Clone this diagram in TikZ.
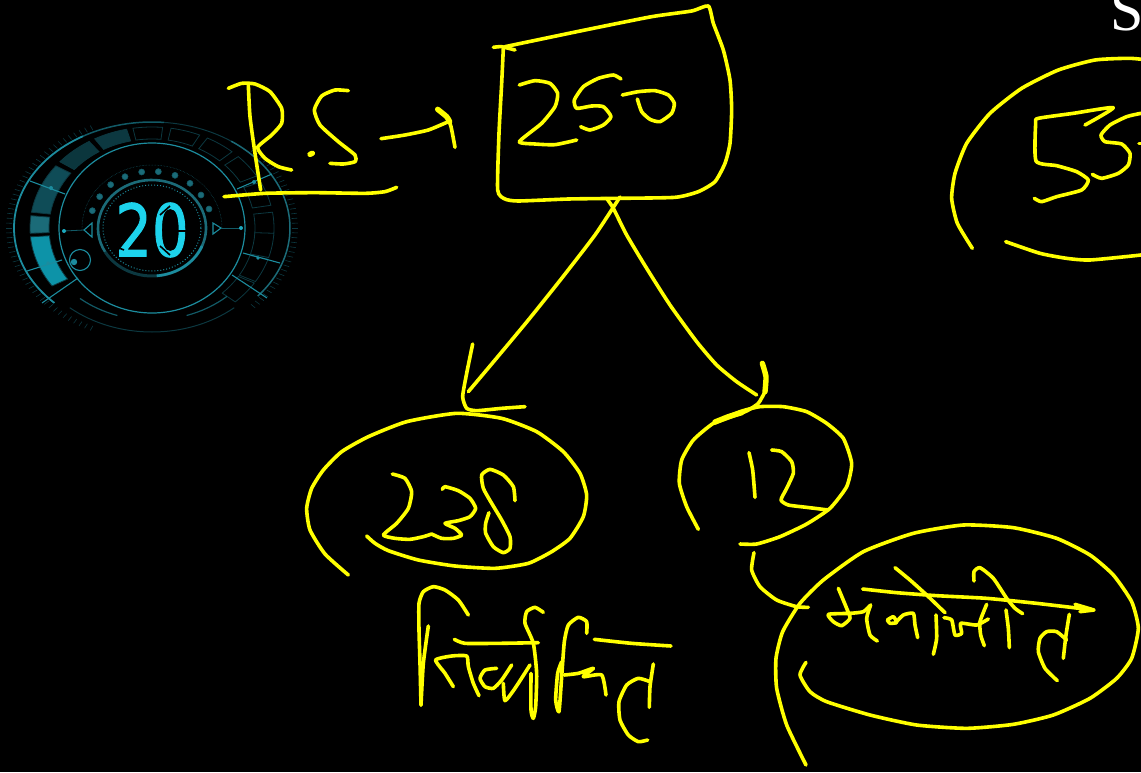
\documentclass[tikz,border=0pt]{standalone}
\usepackage{fontspec}
\newfontfamily\serifS{Liberation Serif}
\newfontfamily\digitfont{DejaVu Sans}[FakeBold=1.6]
\definecolor{inkyellow}{HTML}{FFFF00}
\definecolor{dialA}{HTML}{1C8C9E}
\definecolor{dialB}{HTML}{125A66}
\definecolor{dialC}{HTML}{0C3840}
\definecolor{dialD}{HTML}{0D93A8}
\definecolor{dialE}{HTML}{1B6B78}
\definecolor{lcd}{HTML}{1DD3EC}
\tikzset{
  ink/.style={draw=inkyellow,line width=3.6pt,line cap=round,line join=round},
  inkfat/.style={draw=inkyellow,line width=5.4pt,line cap=round,line join=round},
  zm/.style 2 args={shift={(#1,#2)},x=0.33333pt,y=-0.33333pt},
  dialline/.style={draw=dialA,line width=1.1pt},
  dialdim/.style={draw=dialB,line width=.8pt},
  panel/.style={draw=dialC,line width=.8pt}
}
\newcommand{\stk}[1]{\draw[ink] plot[smooth,tension=.35] coordinates {#1};}
\newcommand{\stkf}[1]{\draw[inkfat] plot[smooth,tension=.35] coordinates {#1};}
% panel: start, end, fill
\newcommand{\pnl}[3]{\path[panel,fill=#3] (#1:103 and 89) arc[start angle=#1,end angle=#2,x radius=103,y radius=89] -- (#2:122 and 101) arc[start angle=#2,end angle=#1,x radius=122,y radius=101] -- cycle;}
\newcommand{\earc}[4]{(#1:#3 and #4) arc[start angle=#1,end angle=#2,x radius=#3,y radius=#4]}
\begin{document}
\begin{tikzpicture}[x=1pt,y=-1pt]
\useasboundingbox (0,0) rectangle (1141,772);
\fill[black] (0,0) rectangle (1141,772);
\clip (0,0) rectangle (1141,772);

% ---------- timer dial ----------
\begin{scope}[shift={(152,228)}]
  \foreach \a in {115,117.5,...,245} {\draw[dialC,line width=.6pt] (\a:140 and 108) -- (\a:146 and 113);}
  \foreach \a in {-45,-42.5,...,45} {\draw[dialC,line width=.6pt] (\a:140 and 108) -- (\a:146 and 113);}
  \pnl{145}{175}{dialD}
  \pnl{177}{187}{dialE}
  \pnl{189}{218}{dialB!85!black}
  \pnl{221}{239}{dialB!60!black}
  \pnl{242}{258}{dialC}
  \foreach \a in {261,279,297,315,333,351,3,18,33} {\pgfmathsetmacro{\b}{\a+14}\pnl{\a}{\b}{black}}
  \draw[dialA,line width=1.8pt] \earc{135}{240}{138}{106};
  \draw[dialB,line width=1.5pt] \earc{240}{275}{138}{106};
  \draw[dialC,line width=1pt] \earc{275}{305}{138}{106};
  \draw[dialE,line width=1.5pt] \earc{305}{400}{138}{106};
  \draw[dialC,line width=1pt] \earc{50}{130}{128}{104};
  \draw[dialB,line width=1.2pt] \earc{48}{72}{112}{92};
  \draw[dialB,line width=1.2pt] \earc{108}{130}{112}{92};
  \draw[dialline,line width=1.2pt] (0,0) ellipse[x radius=93,y radius=85];
  % spokes
  \draw[dialline] (-122,-47) -- (-87,-34);
  \draw[dialline] (-125,43) -- (-90,32);
  \draw[dialline] (85,-39) -- (120,-54);
  \draw[dialline] (91,25) -- (128,35);
  \draw[dialline] (-110,75) -- (-74,50);
  \draw[dialline] (80,47) -- (115,70);
  \fill[dialA] (-101,-40) circle[radius=2]; \fill[dialA] (-104,35) circle[radius=1.8];
  \fill[dialA] (102,-46) circle[radius=2]; \fill[dialA] (106,30) circle[radius=1.8];
  % small circle
  \draw[dialline] (-72,32) circle[radius=10.5];
  \fill[dialA] (-78,34) circle[radius=3.2];
  % pegs dots
  \foreach \px/\py in {277/332,299/290,332/254,375/230,425/216,475/215,525/226,570/250,603/285,627/327}
    {\pgfmathsetmacro{\qx}{(\px-456)/3}\pgfmathsetmacro{\qy}{(\py-384)/3}
     \filldraw[draw=dialB,fill=dialE,line width=.6pt] (\qx,\qy) circle[radius=3];}
  \draw[dialB,line width=.5pt,densely dotted] \earc{180}{360}{70}{63};
  % triangles, pegs
  \draw[dialline] (-68,2) -- (-60,-5) -- (-60,9) -- cycle;
  \draw[dialline] (61,-5) -- (69,0) -- (61,6) -- cycle;
  \draw[dialdim] (-88,3) -- (-68,2); \draw[dialdim] (69,0) -- (89,0);
  \fill[dialA!60!lcd] (-88,3) circle[radius=2]; \fill[dialA!60!lcd] (89,0) circle[radius=2];
  % inner dial
  \draw[dialE,line width=2.6pt] \earc{150}{395}{54}{48};
  \draw[dialC,line width=3pt] \earc{25}{150}{54}{48};
  \draw[dialA,line width=2.6pt] \earc{22}{85}{54}{48};
  \draw[dialA,line width=1pt,dotted] (0,0) ellipse[x radius=49,y radius=43];
  % display
  \node[text=lcd,inner sep=0pt,font={\digitfont\fontsize{72}{72}\selectfont},xscale=.8] (timerval) at (0,2) {20};
  % segment gaps of the display
  \draw[black,line width=1.6pt] (13,3) -- (40,3);
  \draw[black,line width=1.6pt] (-36,-6) -- (-22,-2);
  \draw[black,line width=1.6pt] (-38,18) -- (-28,22);
  \draw[black,line width=1.6pt] (8,-13) -- (18,-22);
  \draw[black,line width=1.6pt] (30,-22) -- (38,-14);
  \draw[black,line width=1.6pt] (8,18) -- (18,27);
  \draw[black,line width=1.6pt] (30,27) -- (38,18);
\end{scope}

% ---------- page letter ----------
\node[text=white,inner sep=0pt,anchor=base west,font={\serifS\fontsize{60}{60}\selectfont}] (pageS) at (1110,30) {S};

% ---------- R.S ->
\begin{scope}[zm={215}{60}]
  \stk{(100,75)(105,170)(120,280)(137,390)}
  \stk{(40,85)(80,70)(120,72)(165,95)(200,145)(200,190)(170,225)(128,262)(150,295)(190,320)(230,330)}
  \stkf{(285,283)(292,280)}
  \stk{(400,92)(360,90)(320,108)(298,150)(315,195)(370,245)(420,285)(420,305)(385,312)(345,310)}
  \stk{(498,236)(570,225)(640,210)(700,185)}
  \stk{(668,148)(695,170)(708,200)(720,262)}
  \stkf{(668,148)(695,170)(704,185)}
  \stk{(27,410)(150,400)(300,398)(450,400)(510,395)(545,382)}
\end{scope}

% ---------- box 250 ----------
\begin{scope}[zm={485}{0}]
  \stk{(25,142)(50,140)(90,150)}
  \stk{(60,140)(300,90)(500,50)(620,33)(670,18)(685,70)(715,150)(735,240)(740,330)(735,430)(720,490)(690,545)(640,575)(570,592)(400,595)(250,597)(100,603)(60,597)(38,570)(42,400)(50,250)(55,145)}
  \stk{(103,255)(150,242)(195,250)(218,280)(210,320)(170,370)(103,425)(150,432)(210,434)(275,420)}
  \stk{(408,237)(385,225)(340,235)(295,260)(268,300)(275,325)(320,318)(355,320)(378,350)(355,375)(315,390)(287,380)}
  \stk{(412,285)(460,275)(510,272)(550,285)(568,310)(560,340)(525,365)(495,358)(470,335)(457,297)}
\end{scope}

% ---------- left branch ----------
\begin{scope}[zm={295}{190}]
  \stk{(975,21)(900,135)(800,265)(700,390)(600,510)(520,605)}
  \stk{(533,462)(515,550)(503,620)(515,655)(545,662)(620,655)(690,650)}
\end{scope}

% ---------- right branch ----------
\begin{scope}[zm={600}{195}]
  \stk{(20,10)(40,40)(80,120)(140,220)(210,330)(290,440)(350,510)(410,560)(470,600)}
  \stkf{(487,505)(498,545)(495,590)}
  \stk{(495,590)(475,625)(440,648)(395,665)(340,685)}
\end{scope}

% ---------- 238 ----------
\begin{scope}[zm={295}{400}]
  \stk{(160,525)(90,462)(45,390)(35,325)(50,265)(85,210)(140,155)(220,110)(335,65)(485,40)(620,55)(725,95)(805,155)(855,220)(875,285)(865,350)(825,415)(770,455)(700,490)(600,505)(480,498)(370,480)(280,452)(240,430)(215,408)}
  \stk{(292,222)(330,235)(350,275)(340,325)(305,370)(265,405)(300,415)(345,418)(385,410)(410,402)}
  \stk{(442,268)(450,260)(490,272)(525,295)(542,325)(525,350)(490,362)(450,370)(480,385)(500,405)(475,415)(440,415)(410,402)}
  \stk{(660,302)(655,260)(625,225)(585,208)(560,225)(565,265)(590,310)(620,360)(645,410)(645,445)(625,458)(595,440)(572,400)(572,370)(582,338)}
\end{scope}

% ---------- 12 ----------
\begin{scope}[zm={670}{400}]
  \stk{(85,388)(50,320)(28,250)(35,180)(70,120)(130,70)(210,35)(270,20)(340,20)(410,35)(470,70)(520,115)(545,190)(530,260)(480,325)(410,372)(330,410)(260,432)(210,432)}
  \stkf{(135,66)(175,50)(215,38)}
  \stk{(237,158)(248,210)(255,292)}
  \stk{(305,150)(335,155)(365,185)(370,220)(350,265)(333,300)(355,315)(410,322)(475,330)}
  \stk{(252,458)(245,510)(270,560)(320,600)(380,620)(415,622)}
\end{scope}

% ---------- big ellipse with manonit ----------
\begin{scope}[zm={770}{515}]
  \stk{(108,750)(50,630)(20,520)(18,430)(38,350)(90,265)(160,195)(280,110)(430,55)(580,30)(730,38)(860,70)(960,120)(1030,180)(1085,260)(1105,340)(1085,430)(1040,490)(960,550)(850,600)(730,628)(590,640)(440,630)(300,600)(170,560)(120,530)(90,480)(108,442)}
  \stk{(278,222)(380,233)(500,242)(650,250)(800,265)(970,285)}
  \draw[ink] (915,268) -- (972,285) -- (930,290);
  \stk{(205,220)(230,280)(240,310)(215,332)(190,320)(175,298)(240,295)(280,290)(302,270)}
  \stk{(302,270)(290,310)(300,360)(322,378)}
  \stk{(352,315)(370,305)(380,322)(360,325)(352,315)}
  \stk{(375,325)(400,300)(430,295)(435,330)(443,368)}
  \stk{(375,158)(420,195)(470,240)(525,293)}
  \stk{(498,300)(500,370)(490,418)}
  \stk{(522,308)(545,315)(555,360)(575,355)(572,325)(620,330)(655,312)}
  \stk{(650,268)(630,320)(632,360)(643,392)}
  \stk{(612,198)(612,170)(630,158)(670,190)(710,250)(735,280)(758,296)}
  \stk{(708,285)(715,340)(718,398)}
  \stk{(898,298)(888,360)(880,430)}
  \stk{(890,375)(860,350)(830,350)(810,370)(805,410)(825,460)(862,497)}
\end{scope}

% ---------- nirvachit ----------
\begin{scope}[zm={405}{580}]
  \stk{(190,105)(160,60)(120,30)(85,20)(55,35)(42,70)(42,150)(45,250)(48,375)}
  \stk{(70,138)(55,250)(48,375)}
  \stk{(145,320)(120,280)(92,240)(140,228)(185,228)(190,260)(205,310)(222,347)}
  \stk{(148,178)(180,190)(280,190)(400,188)}
  \stk{(275,265)(240,270)(225,295)(240,320)(265,325)(290,300)(320,255)}
  \stk{(295,310)(300,362)(330,325)(375,255)}
  \stk{(415,97)(390,82)(365,95)(360,130)(385,190)(395,280)(392,380)(385,415)(378,390)(378,280)}
  \stk{(545,160)(545,125)(520,112)(490,135)(478,185)(470,290)(462,395)(452,360)(458,280)(470,245)}
  \stk{(478,285)(520,280)(565,265)(535,290)(590,285)(603,345)}
  \stk{(568,178)(680,190)(798,198)}
  \stk{(745,252)(735,320)(733,382)}
  \stk{(735,305)(700,295)(665,315)(642,365)(645,420)(670,465)(700,485)(728,480)}
\end{scope}

% ---------- right edge ellipse 55 ----------
\begin{scope}[zm={940}{0}]
  \stk{(97,745)(52,670)(35,595)(45,520)(80,430)(150,340)(245,265)(355,210)(465,180)(570,175)(640,182)}
  \stk{(197,725)(300,760)(380,775)(450,780)(603,765)(660,755)}
  \stk{(435,375)(520,323)(400,340)(295,355)(287,370)(288,483)(350,497)(410,515)(445,540)(425,570)(350,590)(305,605)(283,595)}
  \stk{(640,335)(603,340)(560,350)(510,375)(483,405)(495,425)(545,432)(570,460)(565,495)(535,520)(485,535)(457,523)}
  \stk{(597,430)(620,430)}
\end{scope}
\end{tikzpicture}
\end{document}
